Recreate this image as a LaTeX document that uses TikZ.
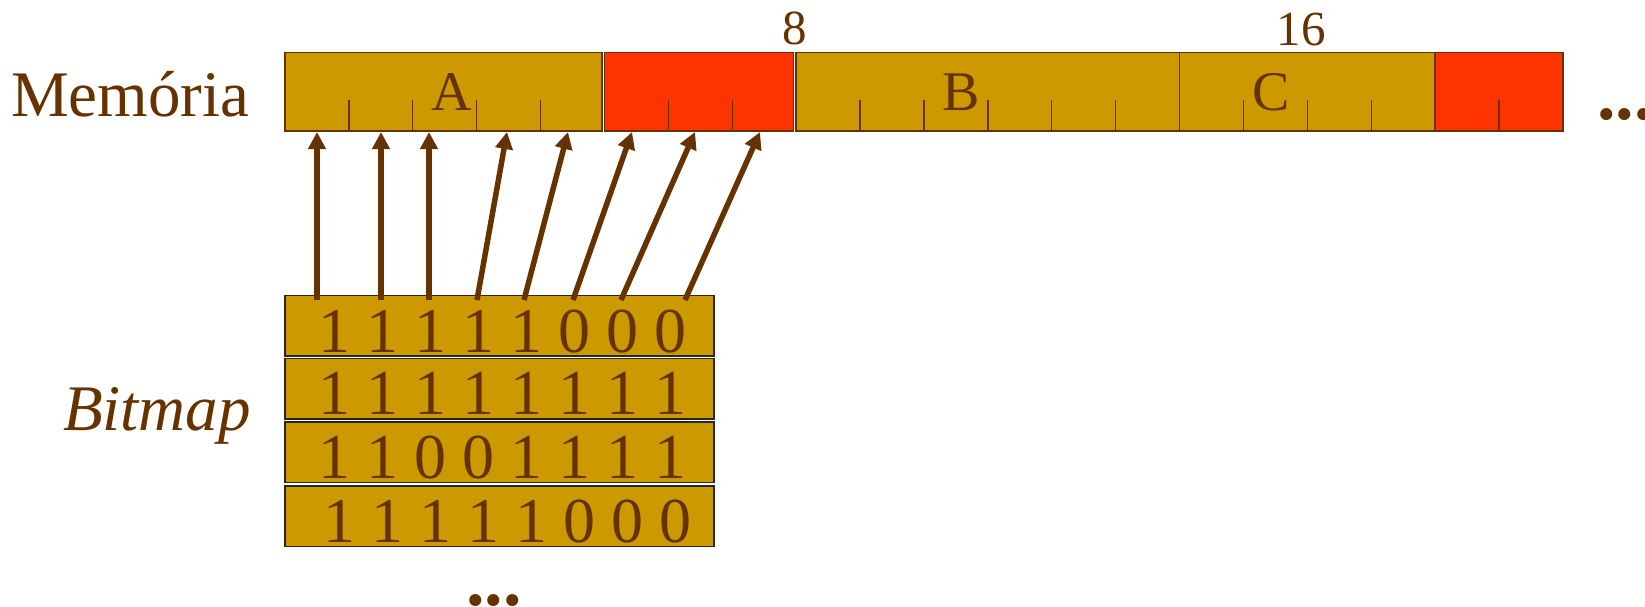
\documentclass[tikz,border=0pt]{standalone}
\usepackage{fontspec}
\setmainfont{Liberation Serif}
\usetikzlibrary{arrows.meta}
\definecolor{brn}{HTML}{663300}
\definecolor{gld}{HTML}{CC9900}
\definecolor{rd}{HTML}{FF3300}
\begin{document}
\begin{tikzpicture}[x=1pt,y=-1pt,
  seg/.style={draw=brn,line width=1.5pt,anchor=north west,inner sep=0pt,outer sep=0pt,minimum height=78.5pt},
  goldseg/.style={seg,fill=gld},
  redseg/.style={seg,fill=rd},
  tick/.style={draw=brn,line width=1.3pt},
  rowbox/.style={draw=black!85,fill=gld,line width=1.5pt,anchor=north west,inner sep=0pt,outer sep=0pt,minimum width=429pt,minimum height=60.5pt},
  txt/.style={text=brn,inner sep=0pt,outer sep=0pt},
  seglabel/.style={txt,anchor=base,font=\fontsize{56}{60}\selectfont},
  numlabel/.style={txt,anchor=base,font=\fontsize{49}{54}\selectfont},
  bits/.style={txt,anchor=base,font=\fontsize{64}{70}\selectfont},
  bigtxt/.style={txt,anchor=base west,font=\fontsize{65}{70}\selectfont},
  dots/.style={txt,font=\bfseries\fontsize{74}{80}\selectfont},
  arr/.style={draw=brn,line width=5.5pt,-{Triangle[length=17pt,width=17pt]}}
]
\useasboundingbox (0,0) rectangle (1645,607);

% memory segments
\node[goldseg,minimum width=317pt] (segA) at (285,52.5) {};
\node[redseg,minimum width=189pt] (segR1) at (604.5,52.5) {};
\node[goldseg,minimum width=383.5pt] (segB) at (796,52.5) {};
\node[goldseg,minimum width=255.5pt] (segC) at (1179.5,52.5) {};
\node[redseg,minimum width=127.5pt] (segR2) at (1435.5,52.5) {};

% ticks
\foreach \k in {1,2,3,4,6,7,9,10,11,12,13,15,16,17,19}
  \draw[tick] ({285+63.9*\k},100) -- ({285+63.9*\k},131);

% labels in memory
\node[seglabel] (labA) at (451.5,111) {A};
\node[seglabel] (labB) at (961.5,111) {B};
\node[seglabel] (labC) at (1271,111) {C};
\node[numlabel] (lab8) at (794.5,45) {8};
\node[numlabel] (lab16) at (1301,45.5) {16};

\node[bigtxt] (mem) at (11,117) {Memória};
\node[dots,anchor=base west] (memdots) at (1597,120) {...};

% bitmap rows
\node[rowbox] (r1) at (285,295.5) {};
\node[rowbox] (r2) at (285,358.5) {};
\node[rowbox] (r3) at (285,422) {};
\node[rowbox] (r4) at (285,486) {};
\node[bits] (b1) at (502,352) {1 1 1 1 1 0 0 0};
\node[bits] (b2) at (502,414) {1 1 1 1 1 1 1 1};
\node[bits] (b3) at (502,478) {1 1 0 0 1 1 1 1};
\node[bits] (b4) at (507,542) {1 1 1 1 1 0 0 0};

\node[bigtxt,font=\itshape\fontsize{65}{70}\selectfont] (bm) at (63,430) {Bitmap};
\node[dots,anchor=base] (bmdots) at (494,605) {...};

% arrows
\coordinate (s1) at (317,300); \coordinate (t1) at (317,132);
\coordinate (s2) at (381,300); \coordinate (t2) at (381,132);
\coordinate (s3) at (429,300); \coordinate (t3) at (429,132);
\coordinate (s4) at (477,300); \coordinate (t4) at (507,132);
\coordinate (s5) at (524,300); \coordinate (t5) at (568,132);
\coordinate (s6) at (573,300); \coordinate (t6) at (632,132);
\coordinate (s7) at (621,300); \coordinate (t7) at (695,132);
\coordinate (s8) at (685,300); \coordinate (t8) at (760,132);
\foreach \i in {1,...,8} \draw[arr] (s\i) -- (t\i);
\end{tikzpicture}
\end{document}
